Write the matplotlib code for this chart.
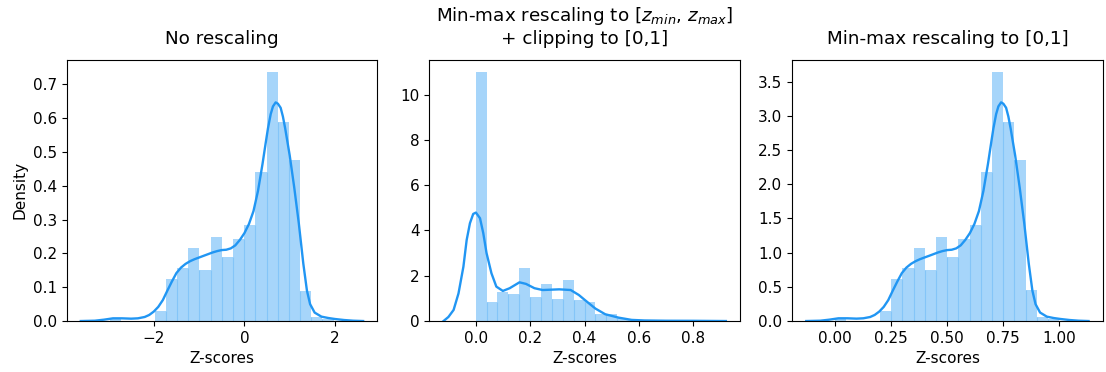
import matplotlib
matplotlib.use("Agg")
import matplotlib.pyplot as plt

plt.rcParams["font.size"] = 11

BLUE = "#2196F3"

# --- panel 1: no rescaling -------------------------------------------------
raw_edges = [-2.97, -2.723, -2.476, -2.229, -1.982, -1.735, -1.488, -1.241,
             -0.994, -0.747, -0.5, -0.253, -0.006, 0.241, 0.488, 0.735,
             0.982, 1.229, 1.476, 1.723, 1.97]
raw_heights = [0.008, 0.0, 0.0, 0.0, 0.03, 0.125, 0.158, 0.217, 0.152, 0.248,
               0.19, 0.243, 0.285, 0.44, 0.737, 0.588, 0.477, 0.09, 0.012, 0.006]
raw_kde_x = [-3.61, -3.3, -3.1, -2.9, -2.7, -2.5, -2.35, -2.2, -2.1, -2.0,
             -1.9, -1.8, -1.7, -1.6, -1.5, -1.4, -1.3, -1.2, -1.1, -1.0,
             -0.9, -0.8, -0.7, -0.6, -0.5, -0.4, -0.3, -0.2, -0.1, 0.0,
             0.1, 0.2, 0.3, 0.4, 0.47, 0.52, 0.58, 0.63, 0.69, 0.74,
             0.8, 0.85, 0.9, 0.95, 1.0, 1.1, 1.2, 1.3, 1.38, 1.45,
             1.55, 1.7, 1.85, 2.0, 2.2, 2.4, 2.62]
raw_kde_y = [0.0, 0.001, 0.004, 0.008, 0.008, 0.007, 0.008, 0.012, 0.018, 0.028,
             0.042, 0.062, 0.09, 0.117, 0.142, 0.158, 0.169, 0.177, 0.183, 0.188,
             0.193, 0.198, 0.203, 0.207, 0.21, 0.211, 0.215, 0.224, 0.24, 0.26,
             0.287, 0.325, 0.385, 0.465, 0.527, 0.57, 0.612, 0.635, 0.647, 0.643,
             0.631, 0.605, 0.57, 0.53, 0.49, 0.395, 0.29, 0.17, 0.09, 0.05,
             0.025, 0.013, 0.009, 0.006, 0.003, 0.001, 0.0]

# --- panel 2: min-max to [zmin, zmax] + clipping ---------------------------
clip_edges = [0.0, 0.04, 0.08, 0.12, 0.16, 0.20, 0.24, 0.28, 0.32, 0.36, 0.40,
              0.44, 0.48, 0.52, 0.56, 0.60, 0.64, 0.68, 0.72, 0.76, 0.80]
clip_heights = [11.0, 0.83, 1.27, 1.18, 2.33, 1.05, 1.62, 0.96, 1.80, 0.92,
                0.83, 0.32, 0.30, 0.12, 0.06, 0.05, 0.0, 0.05, 0.0, 0.05]
clip_kde_x = [-0.118, -0.1, -0.081, -0.063, -0.045, -0.033, -0.021, -0.009,
              0.001, 0.016, 0.028, 0.04, 0.058, 0.076, 0.1, 0.125, 0.161,
              0.185, 0.216, 0.246, 0.307, 0.349, 0.379, 0.404, 0.44, 0.476,
              0.525, 0.573, 0.62, 0.7, 0.8, 0.919]
clip_kde_y = [0.0, 0.18, 0.49, 1.22, 2.4, 3.58, 4.32, 4.73,
              4.79, 4.54, 3.88, 3.0, 2.11, 1.52, 1.33, 1.45, 1.71,
              1.64, 1.45, 1.37, 1.4, 1.37, 1.15, 0.9, 0.55, 0.3,
              0.15, 0.05, 0.025, 0.013, 0.01, 0.0]

# --- panel 3: min-max to [0,1] ---------------------------------------------
mm_edges = [0.0, 0.05, 0.10, 0.15, 0.20, 0.25, 0.30, 0.35, 0.40, 0.45, 0.50,
            0.55, 0.60, 0.65, 0.70, 0.75, 0.80, 0.85, 0.90, 0.95, 1.0]
mm_heights = [0.04, 0.0, 0.0, 0.0, 0.14, 0.62, 0.78, 1.07, 0.75, 1.23, 0.94,
              1.2, 1.41, 2.18, 3.64, 2.91, 2.35, 0.45, 0.06, 0.03]
mm_kde_x = [-0.1296, -0.0668, -0.0263, 0.0142, 0.0547, 0.0951, 0.1255, 0.1559,
            0.1761, 0.1964, 0.2166, 0.2368, 0.2571, 0.2773, 0.2976, 0.3178,
            0.3381, 0.3583, 0.3785, 0.3988, 0.4190, 0.4393, 0.4595, 0.4798,
            0.5, 0.5202, 0.5405, 0.5607, 0.5810, 0.6012, 0.6215, 0.6417,
            0.6619, 0.6822, 0.6964, 0.7065, 0.7186, 0.7287, 0.7409, 0.7510,
            0.7632, 0.7733, 0.7834, 0.7935, 0.8036, 0.8239, 0.8441, 0.8644,
            0.8806, 0.8947, 0.9150, 0.9453, 0.9757, 1.0061, 1.0466, 1.0870,
            1.1316]
mm_kde_y = [0.0, 0.005, 0.02, 0.04, 0.04, 0.035, 0.04, 0.059,
            0.089, 0.138, 0.207, 0.306, 0.445, 0.578, 0.701, 0.781,
            0.835, 0.874, 0.904, 0.929, 0.953, 0.978, 1.003, 1.023,
            1.037, 1.042, 1.062, 1.107, 1.186, 1.284, 1.418, 1.606,
            1.902, 2.297, 2.603, 2.816, 3.023, 3.137, 3.196, 3.176,
            3.117, 2.989, 2.816, 2.618, 2.421, 1.951, 1.433, 0.840,
            0.445, 0.247, 0.124, 0.064, 0.044, 0.030, 0.015, 0.005,
            0.0]

titles = ["No rescaling",
          "Min-max rescaling to [$z_{min}$, $z_{max}$]\n+ clipping to [0,1]",
          "Min-max rescaling to [0,1]"]
panels = [(raw_edges, raw_heights, raw_kde_x, raw_kde_y),
          (clip_edges, clip_heights, clip_kde_x, clip_kde_y),
          (mm_edges, mm_heights, mm_kde_x, mm_kde_y)]

fig, axes = plt.subplots(1, 3, figsize=(11.06, 3.72), dpi=100)
fig.subplots_adjust(left=0.0603, right=0.997, top=0.840, bottom=0.137, wspace=0.168)

for ax, title, (edges, heights, kx, ky) in zip(axes, titles, panels):
    widths = [b - a for a, b in zip(edges[:-1], edges[1:])]
    ax.bar(edges[:-1], heights, width=widths, align="edge",
           color=BLUE, alpha=0.4, linewidth=0)
    # faint darker seams where two bars touch
    seam_x = edges[1:-1]
    seam_top = [min(a, b) for a, b in zip(heights[:-1], heights[1:])]
    ax.vlines(seam_x, 0, seam_top, color=BLUE, alpha=0.25, lw=0.8)
    ax.plot(kx, ky, color=BLUE, lw=1.7, solid_joinstyle="round")
    ax.set_title(title, fontsize=13.2, pad=11)
    ax.set_xlabel("Z-scores")

axes[0].set_ylabel("Density")

fig.savefig("out.png", dpi=100)
